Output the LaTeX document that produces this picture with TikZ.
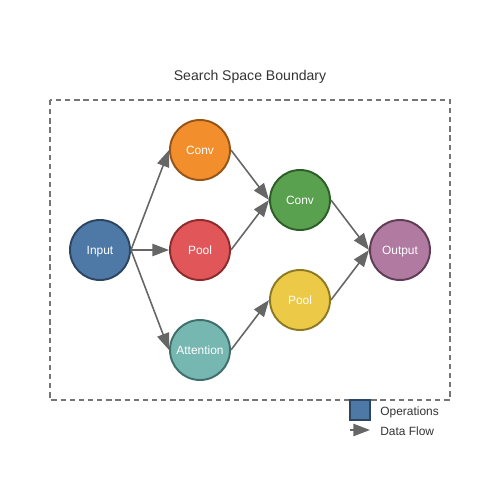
\documentclass[tikz,border=0pt]{standalone}
\usepackage{fontspec}
\setmainfont{Liberation Sans}
\usetikzlibrary{arrows.meta}
\definecolor{cIn}{HTML}{4E79A7}\definecolor{bIn}{HTML}{2C4561}
\definecolor{cConv}{HTML}{F28E2B}\definecolor{bConv}{HTML}{955418}
\definecolor{cPool}{HTML}{E15759}\definecolor{bPool}{HTML}{8C2A2C}
\definecolor{cAtt}{HTML}{76B7B2}\definecolor{bAtt}{HTML}{3F6E6B}
\definecolor{cConvB}{HTML}{59A14F}\definecolor{bConvB}{HTML}{2D5E27}
\definecolor{cPoolB}{HTML}{EDC948}\definecolor{bPoolB}{HTML}{8F7A24}
\definecolor{cOut}{HTML}{B07AA1}\definecolor{bOut}{HTML}{5E3D55}
\definecolor{edge}{HTML}{666666}
\definecolor{txt}{HTML}{333333}
\tikzset{
  op/.style={circle, minimum size=60*0.02cm, inner sep=0pt, line width=1.1pt, text=white, text depth=0pt, font=\fontsize{6.8}{8}\selectfont},
  flow/.style={draw=edge, line width=0.9pt, -{Triangle[length=9.5pt,width=7pt]}},
  lbl/.style={text=txt, text depth=0pt, font=\fontsize{6.8}{8}\selectfont, anchor=west, inner sep=0pt}
}
\begin{document}
\begin{tikzpicture}[x=0.02cm,y=-0.02cm]
\useasboundingbox (0,0) rectangle (500,500);
\node[text=txt, text depth=0pt, font=\fontsize{8}{9}\selectfont] (title) at (250,75.3) {Search Space Boundary};
\draw[edge!90, line width=0.75pt, dash pattern=on 3pt off 2.2pt] (50,100) rectangle (450,400);
\node[op, fill=cIn, draw=bIn] (in) at (100,250) {Input};
\node[op, fill=cConv, draw=bConv] (c1) at (200,150) {Conv};
\node[op, fill=cPool, draw=bPool] (p1) at (200,250) {Pool};
\node[op, fill=cAtt, draw=bAtt] (at) at (200,350) {Attention};
\node[op, fill=cConvB, draw=bConvB] (c2) at (300,200) {Conv};
\node[op, fill=cPoolB, draw=bPoolB] (p2) at (300,300) {Pool};
\node[op, fill=cOut, draw=bOut] (out) at (400,250) {Output};
\draw[flow] (in.east) -- (c1.west);
\draw[flow] (in.east) -- (p1.west);
\draw[flow] (in.east) -- (at.west);
\draw[flow] (c1.east) -- (c2.west);
\draw[flow] (p1.east) -- (c2.west);
\draw[flow] (at.east) -- (p2.west);
\draw[flow] (c2.east) -- (out.west);
\draw[flow] (p2.east) -- (out.west);
% legend
\node[draw=bIn, fill=cIn, line width=0.6pt, minimum size=20*0.02cm, inner sep=0pt] (lsq) at (360,410) {};
\node[lbl] (lop) at (380,411) {Operations};
\coordinate (la) at (350,430);
\coordinate (lb) at (370,430);
\draw[flow] (la) -- (lb);
\node[lbl] (ldf) at (380,431) {Data Flow};
\end{tikzpicture}
\end{document}
